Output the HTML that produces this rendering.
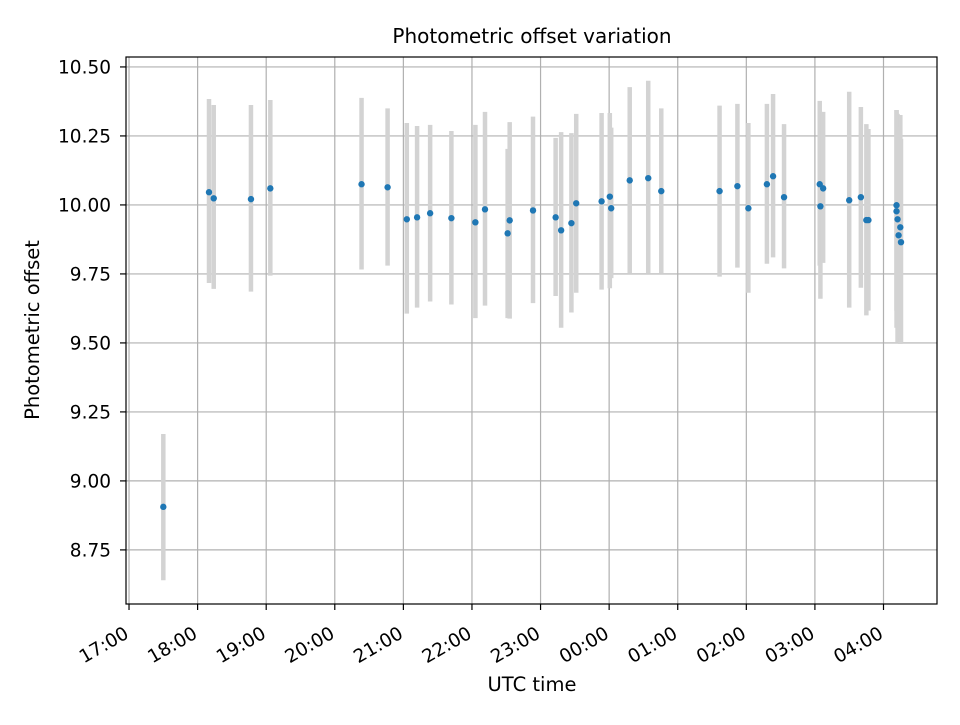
<!DOCTYPE html>
<html><head><meta charset="utf-8"><style>
html,body{margin:0;padding:0;background:#fff;}
svg text{font-family:"DejaVu Sans","Liberation Sans",sans-serif;fill:#000;}
</style></head><body>
<svg id="chart" width="960" height="720" viewBox="0 0 960 720" xmlns="http://www.w3.org/2000/svg">
<rect x="0" y="0" width="960" height="720" fill="#fff"/>
<text x="532" y="43" font-size="20" text-anchor="middle">Photometric offset variation</text>
<text x="532" y="691" font-size="19.5" text-anchor="middle">UTC time</text>
<text transform="translate(39,330) rotate(-90)" font-size="19.5" text-anchor="middle">Photometric offset</text>
<g id="grid"></g>
<g id="bars"></g>
<g id="pts"></g>
<g id="axes"></g>
</svg>
<script>
// hours after 17:00 UTC
const times=[0.50,1.166,1.235,1.778,2.06,3.39,3.77,4.05,4.20,4.39,4.70,5.05,5.19,5.52,5.55,5.89,6.22,6.30,6.45,6.52,6.89,7.01,7.03,7.30,7.57,7.76,8.61,8.87,9.03,9.30,9.39,9.55,10.07,10.08,10.12,10.50,10.67,10.75,10.78,11.19,11.19,11.205,11.245,11.22,11.255];
const values=[8.906,10.046,10.024,10.021,10.06,10.075,10.064,9.948,9.955,9.97,9.952,9.937,9.984,9.897,9.944,9.98,9.955,9.908,9.934,10.006,10.013,10.03,9.988,10.089,10.097,10.05,10.05,10.068,9.988,10.075,10.104,10.028,10.075,9.995,10.06,10.017,10.028,9.945,9.945,9.999,9.977,9.948,9.919,9.89,9.865];
const upper=[9.17,10.384,10.362,10.362,10.38,10.388,10.35,10.297,10.286,10.29,10.268,10.29,10.337,10.203,10.30,10.32,10.243,10.264,10.26,10.33,10.333,10.333,10.28,10.427,10.45,10.35,10.36,10.366,10.297,10.366,10.402,10.293,10.377,10.337,10.337,10.41,10.355,10.293,10.275,10.344,10.344,10.33,10.326,10.28,10.24];
const lower=[8.64,9.717,9.696,9.686,9.744,9.766,9.78,9.606,9.628,9.65,9.639,9.59,9.635,9.59,9.588,9.644,9.67,9.555,9.61,9.682,9.693,9.698,9.735,9.75,9.75,9.75,9.74,9.773,9.682,9.787,9.81,9.77,9.78,9.66,9.79,9.628,9.70,9.6,9.617,9.617,9.555,9.50,9.496,9.52,9.50];
const xTickLabels=["17:00","18:00","19:00","20:00","21:00","22:00","23:00","00:00","01:00","02:00","03:00","04:00"];
const yTicks=[8.75,9.00,9.25,9.50,9.75,10.00,10.25,10.50];

const L=126,R=937,T=57,B=604;
const xMin=-0.044,xMax=11.78,yMin=8.554,yMax=10.536;
const xs=h=>L+(h-xMin)/(xMax-xMin)*(R-L);
const ys=v=>B-(v-yMin)/(yMax-yMin)*(B-T);
const NS="http://www.w3.org/2000/svg";
function mk(tag,attrs,parent){const e=document.createElementNS(NS,tag);for(const k in attrs)e.setAttribute(k,attrs[k]);parent.appendChild(e);return e;}
const grid=document.getElementById('grid'),bars=document.getElementById('bars'),pts=document.getElementById('pts'),axes=document.getElementById('axes');

xTickLabels.forEach((lab,i)=>{
  const x=xs(i);
  const g=mk('line',{x1:x,x2:x,y1:T,y2:B,stroke:'#b0b0b0','stroke-width':1.2},grid);
  
  
  const t=mk('line',{x1:x,x2:x,y1:B,y2:B+6,stroke:'#000','stroke-width':1.2},axes);
  
  
  const tx=mk('text',{x:0,y:0,'font-size':18.5,'text-anchor':'end',transform:`translate(${x+1},${B+33}) rotate(-30)`},axes);
  tx.textContent=lab;
  
  
});
yTicks.forEach(v=>{
  const y=ys(v);
  const g=mk('line',{x1:L,x2:R,y1:y,y2:y,stroke:'#b0b0b0','stroke-width':1.2},grid);
  
  
  const t=mk('line',{x1:L-6,x2:L,y1:y,y2:y,stroke:'#000','stroke-width':1.2},axes);
  
  
  const tx=mk('text',{x:L-15,y:y+6.5,'font-size':18.5,'text-anchor':'end'},axes);
  tx.textContent=v.toFixed(2);
  
  
});
times.forEach((h,i)=>{
  const x=xs(h);
  const b=mk('line',{x1:x,x2:x,y1:ys(upper[i]),y2:ys(lower[i]),stroke:'#d3d3d3','stroke-width':4.5},bars);
  
  
});
times.forEach((h,i)=>{
  const c=mk('circle',{cx:xs(h),cy:ys(values[i]),r:3.2,fill:'#1f77b4'},pts);
  
  
});
const fr=mk('rect',{x:L,y:T,width:R-L,height:B-T,fill:'none',stroke:'#000','stroke-width':1.2},axes);


</script>
</body></html>
